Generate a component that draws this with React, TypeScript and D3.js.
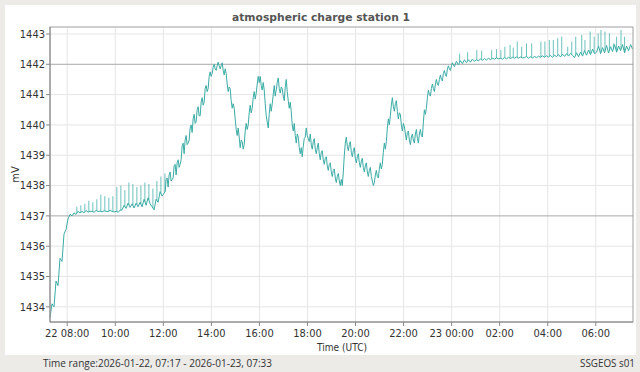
import React from 'react';
import * as d3 from 'd3';

// ---- data (mV, 5-minute samples starting 2026-01-22 07:17 UTC) ----
const START_MS = Date.UTC(2026, 0, 22, 7, 17);
const END_MS = Date.UTC(2026, 0, 23, 7, 33);
const STEP_MIN = 5;

const h07a = [1433.65, 1434.1, 1434.0, 1434.85, 1434.7, 1435.6, 1435.5, 1436.4, 1436.55];
const h08 = [1436.9, 1437.05, 1437.0, 1437.1, 1437.05, 1437.15, 1437.1, 1437.15, 1437.1, 1437.18, 1437.12, 1437.15];
const h09 = [1437.15, 1437.12, 1437.18, 1437.14, 1437.16, 1437.13, 1437.17, 1437.15, 1437.14, 1437.18, 1437.15, 1437.13];
const h10 = [1437.15, 1437.12, 1437.18, 1437.2, 1437.35, 1437.25, 1437.42, 1437.28, 1437.4, 1437.26, 1437.42, 1437.3];
const h11 = [1437.45, 1437.3, 1437.55, 1437.35, 1437.6, 1437.4, 1437.3, 1437.2, 1437.55, 1437.45, 1437.8, 1437.65];
const h12 = [1437.75, 1438.2, 1437.95, 1438.45, 1438.2, 1438.65, 1438.35, 1438.85, 1438.7, 1439.3, 1439.05, 1439.65];
const h13 = [1439.4, 1439.9, 1439.75, 1440.35, 1440.1, 1440.6, 1440.3, 1440.9, 1440.75, 1441.3, 1441.2, 1441.75];
const h14 = [1441.7, 1442.0, 1441.8, 1442.07, 1441.85, 1442.05, 1441.65, 1441.7, 1441.1, 1441.2, 1440.55, 1440.55];
const h15 = [1439.85, 1439.9, 1439.25, 1439.45, 1439.35, 1440.05, 1440.0, 1440.65, 1440.55, 1441.1, 1441.05, 1441.6];
const h16 = [1441.6, 1441.15, 1441.15, 1440.3, 1439.9, 1440.7, 1440.7, 1441.3, 1441.15, 1441.55, 1441.05, 1441.2];
const h17 = [1440.8, 1441.5, 1440.8, 1440.75, 1440.0, 1440.05, 1439.4, 1439.6, 1439.05, 1438.95, 1439.55, 1439.9];
const h18 = [1439.55, 1439.7, 1439.2, 1439.55, 1439.05, 1439.4, 1438.85, 1439.15, 1438.7, 1438.95, 1438.5, 1438.75];
const h19 = [1438.3, 1438.55, 1438.1, 1438.4, 1438.0, 1438.0, 1439.0, 1439.6, 1439.15, 1439.45, 1438.95, 1439.25];
const h20 = [1438.75, 1439.05, 1438.6, 1438.9, 1438.45, 1438.75, 1438.3, 1438.6, 1438.15, 1438.1, 1438.5, 1438.25];
const h21 = [1438.75, 1438.7, 1439.4, 1439.45, 1440.2, 1440.3, 1440.9, 1440.45, 1440.8, 1440.2, 1440.35, 1439.8];
const h22 = [1439.95, 1439.5, 1439.8, 1439.35, 1439.7, 1439.4, 1439.85, 1439.4, 1439.85, 1439.6, 1440.5, 1440.55];
const h23 = [1441.15, 1440.95, 1441.35, 1441.1, 1441.5, 1441.3, 1441.65, 1441.45, 1441.8, 1441.6, 1441.95, 1441.8];
const h00 = [1442.05, 1441.92, 1442.1, 1441.98, 1442.12, 1442.02, 1442.15, 1442.05, 1442.15, 1442.07, 1442.17, 1442.1];
const h01 = [1442.15, 1442.11, 1442.18, 1442.13, 1442.19, 1442.14, 1442.2, 1442.15, 1442.2, 1442.17, 1442.21, 1442.18];
const h02 = [1442.2, 1442.17, 1442.22, 1442.18, 1442.23, 1442.19, 1442.23, 1442.2, 1442.24, 1442.2, 1442.24, 1442.21];
const h03 = [1442.22, 1442.26, 1442.2, 1442.25, 1442.21, 1442.26, 1442.22, 1442.27, 1442.23, 1442.28, 1442.23, 1442.28];
const h04 = [1442.24, 1442.29, 1442.23, 1442.3, 1442.25, 1442.32, 1442.24, 1442.33, 1442.26, 1442.35, 1442.27, 1442.36];
const h05 = [1442.3, 1442.22, 1442.38, 1442.25, 1442.4, 1442.27, 1442.45, 1442.3, 1442.47, 1442.32, 1442.5, 1442.35];
const h06 = [1442.4, 1442.6, 1442.35, 1442.55, 1442.38, 1442.62, 1442.37, 1442.58, 1442.42, 1442.65, 1442.4, 1442.6];
const h07b = [1442.45, 1442.65, 1442.38, 1442.6, 1442.45, 1442.65, 1442.5];

const baseValues = [
  ...h07a, ...h08, ...h09, ...h10, ...h11, ...h12, ...h13, ...h14, ...h15, ...h16,
  ...h17, ...h18, ...h19, ...h20, ...h21, ...h22, ...h23, ...h00, ...h01, ...h02,
  ...h03, ...h04, ...h05, ...h06, ...h07b,
];

// extra half-step samples (12:04:30 ... 23:59:30, every 5 min) for the noisy stretch
const MID_START_MS = Date.UTC(2026, 0, 22, 12, 4, 30);
const m12 = [1437.8, 1438.25, 1438.35, 1438.15, 1438.25, 1438.7, 1438.75, 1438.6, 1438.85, 1439.4, 1439.5, 1439.35];
const m13 = [1439.5, 1440.0, 1440.2, 1440.05, 1440.5, 1440.3, 1440.75, 1440.65, 1441.2, 1441.1, 1441.6, 1441.6];
const m14 = [1441.9, 1441.85, 1441.95, 1441.95, 1441.95, 1441.8, 1441.85, 1441.35, 1441.25, 1440.8, 1440.7, 1440.2];
const m15 = [1439.65, 1439.6, 1439.5, 1439.2, 1439.8, 1439.85, 1440.4, 1440.4, 1440.9, 1440.85, 1441.35, 1441.4];
const m16 = [1441.3, 1441.4, 1440.7, 1440.1, 1440.35, 1440.45, 1441.0, 1440.95, 1441.4, 1441.2, 1441.25, 1440.95];
const m17 = [1441.25, 1441.1, 1440.55, 1440.45, 1439.8, 1439.65, 1439.7, 1439.25, 1439.25, 1439.3, 1439.6, 1439.65];
const m18 = [1439.45, 1439.35, 1439.45, 1439.2, 1439.25, 1439.05, 1439.1, 1438.85, 1438.9, 1438.65, 1438.7, 1438.45];
const m19 = [1438.5, 1438.25, 1438.3, 1438.15, 1438.2, 1438.45, 1439.4, 1439.3, 1439.35, 1439.1, 1439.15, 1438.9];
const m20 = [1438.95, 1438.75, 1438.8, 1438.6, 1438.65, 1438.45, 1438.5, 1438.3, 1438.0, 1438.35, 1438.3, 1438.55];
const m21 = [1438.55, 1439.1, 1439.2, 1439.9, 1440.0, 1440.65, 1440.6, 1440.7, 1440.45, 1440.4, 1440.0, 1440.05];
const m22 = [1439.7, 1439.75, 1439.5, 1439.6, 1439.5, 1439.7, 1439.55, 1439.7, 1439.65, 1440.1, 1440.35, 1440.9];
const m23 = [1441.0, 1441.2, 1441.2, 1441.35, 1441.35, 1441.5, 1441.5, 1441.7, 1441.65, 1441.85, 1441.85, 1441.95];
const midValues = [...m12, ...m13, ...m14, ...m15, ...m16, ...m17, ...m18, ...m19, ...m20, ...m21, ...m22, ...m23];

// short upward spikes ("day hh:mm", peak value)
const spikeTimes = [
  '22 08:24', '22 08:34', '22 08:44', '22 08:54', '22 09:04', '22 09:14', '22 09:24', '22 09:34',
  '22 09:44', '22 09:54', '22 10:04', '22 10:14', '22 10:24', '22 10:34', '22 10:44', '22 10:54',
  '22 11:04', '22 11:14', '22 11:24', '22 11:34', '22 11:44', '22 11:54', '22 12:04',
  '23 00:20', '23 00:40', '23 01:03', '23 01:15', '23 01:40', '23 01:52', '23 02:03', '23 02:13',
  '23 02:26', '23 02:34', '23 02:44', '23 02:55', '23 03:07', '23 03:20', '23 03:43', '23 03:53',
  '23 04:04', '23 04:14', '23 04:25', '23 04:35', '23 04:50', '23 05:00', '23 05:10', '23 05:25',
  '23 05:33', '23 05:46', '23 05:56', '23 06:06', '23 06:13', '23 06:23', '23 06:34', '23 06:44',
  '23 06:52', '23 07:03', '23 07:12',
];
const spikeValues = [
  1437.3, 1437.35, 1437.4, 1437.5, 1437.45, 1437.55, 1437.7, 1437.65,
  1437.6, 1437.65, 1437.95, 1438.0, 1437.85, 1438.1, 1438.05, 1437.95,
  1438.0, 1438.1, 1438.05, 1437.9, 1438.15, 1438.3, 1438.4,
  1442.35, 1442.4, 1442.47, 1442.45, 1442.47, 1442.5, 1442.47, 1442.58,
  1442.64, 1442.55, 1442.75, 1442.58, 1442.69, 1442.69, 1442.75, 1442.75,
  1442.8, 1442.8, 1442.86, 1442.91, 1442.58, 1442.75, 1442.91, 1442.97,
  1442.8, 1443.08, 1442.91, 1443.02, 1443.13, 1443.08, 1443.02, 1442.69,
  1442.91, 1443.13, 1442.91,
];

const yTicks = [1434, 1435, 1436, 1437, 1438, 1439, 1440, 1441, 1442, 1443];
const thresholds = [1437, 1442];
const titleText = 'atmospheric charge station 1';
const yLabel = 'mV';
const xLabel = 'Time (UTC)';
const footerLeft = 'Time range:2026-01-22, 07:17 - 2026-01-23, 07:33';
const footerRight = 'SSGEOS s01';

// ---- layout ----
const W = 640, H = 372;
const L = 50, R = 633, T = 27, B = 322;
const FONT = "'DejaVu Sans Condensed', 'DejaVu Sans', sans-serif";
const LINE_COLOR = '#3aaca5';

function parseSpike(s: string): number {
  const day = +s.slice(0, 2);
  const hh = +s.slice(3, 5);
  const mm = +s.slice(6, 8);
  return Date.UTC(2026, 0, day, hh, mm);
}

type Pt = { t: number; v: number };

export default function App() {
  const x = d3.scaleUtc().domain([new Date(START_MS), new Date(END_MS)]).range([L, R]);
  const y = d3.scaleLinear().domain([1433.5, 1443.23]).range([B, T]);

  const pts: Pt[] = baseValues.map((v, i) => ({ t: START_MS + i * STEP_MIN * 60000, v }));
  midValues.forEach((v, i) => pts.push({ t: MID_START_MS + i * STEP_MIN * 60000, v }));
  pts.sort((a, b) => a.t - b.t);

  const bis = d3.bisector((d: Pt) => d.t).left;
  const spikes = spikeTimes.map((s, i) => {
    const t = parseSpike(s);
    const j = Math.max(1, Math.min(pts.length - 1, bis(pts, t)));
    const a = pts[j - 1], b = pts[j];
    const f = (t - a.t) / (b.t - a.t);
    return { t, base: a.v + (b.v - a.v) * f, peak: spikeValues[i] };
  });

  const line = d3
    .line<Pt>()
    .x((d) => x(new Date(d.t)))
    .y((d) => y(d.v));

  const xTicks = x.ticks(d3.utcHour.every(2)!);
  const fmtTick = (d: Date, i: number) => {
    const hm = d3.utcFormat('%H:%M')(d);
    if (i === 0 || (d.getUTCHours() === 0 && d.getUTCMinutes() === 0)) {
      return d3.utcFormat('%d')(d) + ' ' + hm;
    }
    return hm;
  };

  return (
    <svg
      width={W}
      height={H}
      style={{ position: 'absolute', left: 0, top: 0, display: 'block' }}
      fontFamily={FONT}
    >
      <rect x={0} y={0} width={W} height={H} fill="#ecebe8" />
      <rect x={5} y={5} width={631} height={350} fill="#ffffff" />

      {/* grid */}
      {xTicks.map((d, i) => (
        <line key={'gx' + i} x1={x(d)} x2={x(d)} y1={T} y2={B} stroke="#e6e6e6" strokeWidth={1} />
      ))}
      {yTicks.map((v) => (
        <line
          key={'gy' + v}
          x1={L}
          x2={R}
          y1={y(v)}
          y2={y(v)}
          stroke={thresholds.includes(v) ? '#a9a9a9' : '#e6e6e6'}
          strokeWidth={1}
        />
      ))}

      {/* spikes */}
      {spikes.map((s, i) => (
        <line
          key={'sp' + i}
          x1={x(new Date(s.t))}
          x2={x(new Date(s.t))}
          y1={y(s.base)}
          y2={y(s.peak)}
          stroke={LINE_COLOR}
          strokeOpacity={0.75}
          strokeWidth={1}
        />
      ))}

      {/* data line */}
      <path d={line(pts) || ''} fill="none" stroke={LINE_COLOR} strokeWidth={1} strokeLinejoin="round" />

      {/* frame */}
      <rect x={L} y={T} width={R - L} height={B - T} fill="none" stroke="#a0a0a0" strokeWidth={1} />
      <line x1={L} x2={L} y1={T} y2={B} stroke="#888" strokeWidth={1} />
      <line x1={L} x2={R} y1={B} y2={B} stroke="#888" strokeWidth={1} />

      {/* y axis */}
      {yTicks.map((v) => (
        <g key={'yt' + v}>
          <line x1={L - 4} x2={L} y1={y(v)} y2={y(v)} stroke="#888" />
          <text x={L - 5} y={y(v)} dy="0.35em" textAnchor="end" fontSize={11} fill="#333">
            {v}
          </text>
        </g>
      ))}

      {/* x axis */}
      {xTicks.map((d, i) => (
        <g key={'xt' + i}>
          <line x1={x(d)} x2={x(d)} y1={B} y2={B + 4} stroke="#888" />
          <text x={x(d)} y={B + 15} textAnchor="middle" fontSize={11} fill="#333">
            {fmtTick(d, i)}
          </text>
        </g>
      ))}

      {/* labels */}
      <text
        x={321}
        y={21}
        textAnchor="middle"
        fontSize={11}
        fontWeight="bold"
        fill="#555"
        textLength={178}
        lengthAdjust="spacingAndGlyphs"
      >
        {titleText}
      </text>
      <text
        transform={`translate(19,${(T + B) / 2}) rotate(-90)`}
        textAnchor="middle"
        fontSize={11}
        fill="#333"
      >
        {yLabel}
      </text>
      <text x={342} y={351} textAnchor="middle" fontSize={11} fill="#333" textLength={50} lengthAdjust="spacingAndGlyphs">
        {xLabel}
      </text>
      <text
        x={43}
        y={367}
        fontSize={11}
        fill="#333"
        fontFamily="'Open Sans', 'Noto Sans', sans-serif"
        textLength={229}
        lengthAdjust="spacingAndGlyphs"
      >
        {footerLeft}
      </text>
      <text
        x={635}
        y={367}
        textAnchor="end"
        fontSize={11}
        fill="#333"
        fontFamily="'Open Sans', 'Noto Sans', sans-serif"
        textLength={55}
        lengthAdjust="spacingAndGlyphs"
      >
        {footerRight}
      </text>
    </svg>
  );
}
